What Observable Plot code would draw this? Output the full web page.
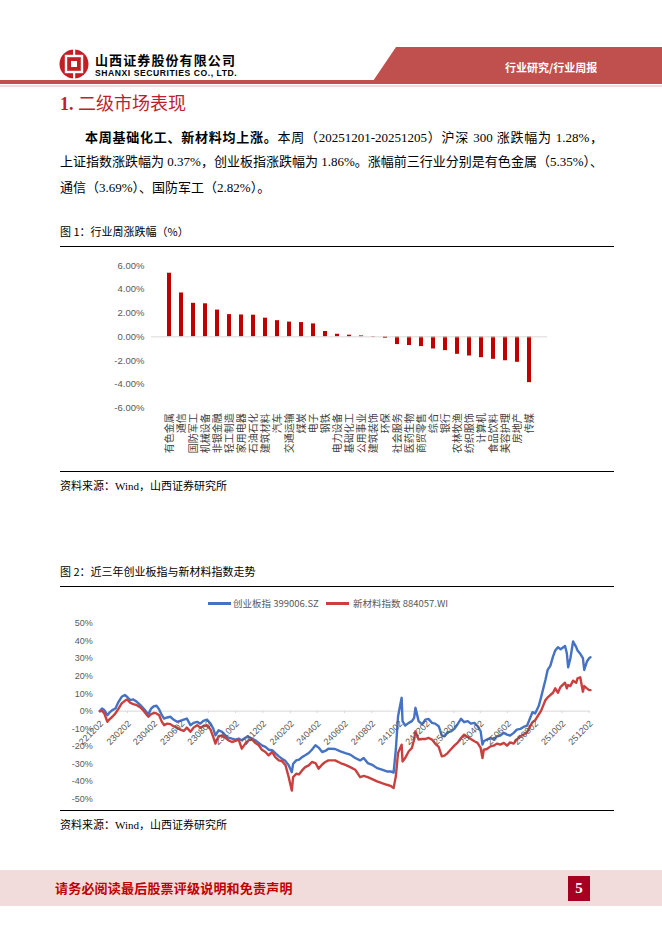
<!DOCTYPE html>
<html>
<head>
<meta charset="utf-8">
<script src="https://cdn.jsdelivr.net/npm/d3@7"></script>
<script src="https://cdn.jsdelivr.net/npm/@observablehq/plot@0.6"></script>
<style>
  html, body { margin: 0; padding: 0; background: #fff; }
  #page { position: relative; width: 662px; height: 936px; overflow: hidden; background: #fff;
          font-family: "Liberation Serif", "Noto Sans CJK SC", serif; color: #000; }
  .abs { position: absolute; white-space: nowrap; }
  .cjk { font-family: "Noto Sans CJK SC", sans-serif; }
  .para { position: absolute; font-size: 13px; line-height: 13px; text-align: justify; text-align-last: justify; white-space: nowrap; }
  .rule { position: absolute; left: 60px; width: 554px; height: 1.3px; background: #000; }
  .cap { position: absolute; left: 60px; font-size: 11px; line-height: 11px; }
  .sw { position: absolute; height: 2.6px; }
  .leg { position: absolute; font-family: "Noto Sans CJK SC", sans-serif; font-size: 9.5px; line-height: 10px; color: #595959; white-space: nowrap; }
</style>
</head>
<body>
<div id="page">
  <!-- header -->
  <svg class="abs" style="left:0;top:0" width="662" height="95">
    <polygon points="371,84 396,47 662,47 662,84" fill="#c0504d"></polygon>
    <rect x="0" y="80" width="662" height="4" fill="#c0504d"></rect>
    <rect x="0" y="85" width="662" height="2" fill="#f2dcdb"></rect>
    <circle cx="74" cy="64" r="14.5" fill="#c41e24"></circle>
    <rect x="66" y="56" width="16" height="16" fill="none" stroke="#fff" stroke-width="2.4"></rect>
    <rect x="71" y="61" width="6" height="6" fill="#fff"></rect>
    <rect x="73" y="49" width="2.2" height="7" fill="#fff"></rect>
    <rect x="73" y="72" width="2.2" height="7" fill="#fff"></rect>
  </svg>
  <div class="abs cjk" style="left:95px;top:53px;font-size:13px;line-height:13px;font-weight:700;letter-spacing:1.1px;">山西证券股份有限公司</div>
  <div class="abs" style="left:95px;top:69px;font-family:'Liberation Sans',sans-serif;font-size:8.6px;line-height:9px;font-weight:700;letter-spacing:0.55px;">SHANXI SECURITIES CO., LTD.</div>
  <div class="abs cjk" style="left:505px;top:61px;font-size:11px;line-height:12px;font-weight:700;color:#fff;">行业研究/行业周报</div>

  <!-- section heading -->
  <div class="abs" style="left:60px;top:92px;font-size:18px;line-height:20px;color:#be1e2d;"><b>1.</b> <span class="cjk">二级市场表现</span></div>

  <!-- paragraph -->
  <div class="para" style="left:85px;top:130px;width:518px;"><b class="cjk">本周基础化工、新材料均上涨。</b>本周（20251201-20251205）沪深 300 涨跌幅为 1.28%，</div>
  <div class="para" style="left:60px;top:155px;width:543px;">上证指数涨跌幅为 0.37%，创业板指涨跌幅为 1.86%。涨幅前三行业分别是有色金属（5.35%）、</div>
  <div class="para" style="left:60px;top:181px;text-align-last:left;">通信（3.69%）、国防军工（2.82%）。</div>

  <!-- figure 1 -->
  <div class="cap cjk" style="top:226px;">图 1：行业周涨跌幅（%）</div>
  <div id="chart1" class="abs" style="left:0;top:250px;"></div>
  <div class="rule" style="top:246px;"></div>
  <div class="rule" style="top:471px;"></div>
  <div class="cap" style="top:481px;">资料来源：Wind，山西证券研究所</div>

  <!-- figure 2 -->
  <div class="cap cjk" style="top:566px;">图 2：近三年创业板指与新材料指数走势</div>
  <div id="chart2" class="abs" style="left:0;top:590px;"></div>
  <div class="sw" style="left:208px;top:602px;width:23px;background:#4472c4;"></div>
  <div class="leg" style="left:233px;top:598px;">创业板指 399006.SZ</div>
  <div class="sw" style="left:326px;top:602px;width:23px;background:#c9403f;"></div>
  <div class="leg" style="left:353px;top:598px;">新材料指数 884057.WI</div>
  <div class="rule" style="top:586px;"></div>
  <div class="rule" style="top:810px;"></div>
  <div class="cap" style="top:820px;">资料来源：Wind，山西证券研究所</div>

  <!-- footer -->
  <div class="abs" style="left:0;top:870px;width:662px;height:36px;background:#f2dcdb;"></div>
  <div class="abs cjk" style="left:55px;top:881px;font-size:13px;line-height:14px;font-weight:700;color:#c00000;letter-spacing:0.2px;">请务必阅读最后股票评级说明和免责声明</div>
  <div class="abs" style="left:568px;top:876px;width:22px;height:25px;background:#a50021;color:#fff;font-size:15px;line-height:25px;text-align:center;font-weight:700;">5</div>
</div>

<script>
// ---------- Figure 1 data: weekly change by industry (%) ----------
const industries = ["有色金属","通信","国防军工","机械设备","非银金融","轻工制造","家用电器","石油石化","建筑材料","汽车","交通运输","煤炭","电子","钢铁","电力设备","基础化工","公用事业","建筑装饰","环保","社会服务","医药生物","商贸零售","综合","银行","农林牧渔","纺织服饰","计算机","食品饮料","美容护理","房地产","传媒"];
const weeklyChange = [5.35,3.69,2.82,2.78,2.25,1.87,1.84,1.82,1.57,1.36,1.24,1.20,1.09,0.45,0.22,0.14,0.08,-0.05,-0.13,-0.65,-0.73,-0.82,-1.02,-1.16,-1.47,-1.61,-1.75,-1.89,-2.01,-2.14,-3.85];
const yTicks1 = [-6,-4,-2,0,2,4,6];

// ---------- Figure 2 data: cumulative return since 2022-12-02 (%) ----------
const dates = ["2022-12-02","2022-12-07","2022-12-12","2022-12-19","2022-12-23","2022-12-30","2023-01-06","2023-01-13","2023-01-20","2023-01-27",
"2023-02-01","2023-02-08","2023-02-15","2023-02-23","2023-03-03","2023-03-10","2023-03-16","2023-03-21","2023-03-27","2023-04-03",
"2023-04-08","2023-04-14","2023-04-20","2023-04-25","2023-05-02","2023-05-09","2023-05-16","2023-05-24","2023-05-31","2023-06-08",
"2023-06-15","2023-06-23","2023-06-30","2023-07-08","2023-07-15","2023-07-22","2023-07-30","2023-08-07","2023-08-13","2023-08-18",
"2023-08-25","2023-09-02","2023-09-09","2023-09-16","2023-09-24","2023-10-02","2023-10-09","2023-10-16","2023-10-24","2023-10-31",
"2023-11-08","2023-11-15","2023-11-23","2023-11-30","2023-12-08","2023-12-15","2023-12-23","2023-12-30","2024-01-07","2024-01-14",
"2024-01-22","2024-01-29","2024-02-05","2024-02-08","2024-02-15","2024-02-21","2024-02-28","2024-03-06","2024-03-14","2024-03-21",
"2024-03-29","2024-04-05","2024-04-13","2024-04-20","2024-04-27","2024-05-12","2024-05-24","2024-06-04","2024-06-15","2024-06-26",
"2024-07-07","2024-07-15","2024-07-24","2024-08-03","2024-08-14","2024-08-25","2024-09-05","2024-09-13","2024-09-20","2024-09-25",
"2024-09-30","2024-10-08","2024-10-10","2024-10-16","2024-10-24","2024-10-31","2024-11-05","2024-11-08","2024-11-15","2024-11-23",
"2024-11-30","2024-12-07","2024-12-15","2024-12-22","2024-12-30","2025-01-06","2025-01-12","2025-01-19","2025-01-27","2025-02-03",
"2025-02-10","2025-02-18","2025-02-25","2025-03-05","2025-03-12","2025-03-20","2025-03-27","2025-04-03","2025-04-07","2025-04-10",
"2025-04-17","2025-04-25","2025-05-02","2025-05-10","2025-05-17","2025-05-25","2025-06-01","2025-06-08","2025-06-16","2025-06-23",
"2025-07-01","2025-07-08","2025-07-16","2025-07-23","2025-07-28","2025-08-03","2025-08-11","2025-08-16","2025-08-26","2025-08-31",
"2025-09-06","2025-09-12","2025-09-17","2025-09-23","2025-09-29","2025-10-09","2025-10-13","2025-10-16","2025-10-21","2025-10-27",
"2025-11-03","2025-11-06","2025-11-12","2025-11-18","2025-11-21","2025-11-27","2025-12-02","2025-12-05"];
const chinext = [0,1.5,0.6,-2.3,-1.0,0.6,1.5,5.3,8.2,9.2,
8.2,6.3,6.7,5.3,3.4,1.5,-0.4,-1.7,1.5,2.9,
3.1,1.0,-2.3,-4.2,-3.6,-3.2,-4.8,-6.1,-5.5,-4.8,
-4.2,-8.0,-6.7,-6.1,-7.1,-5.5,-4.8,-7.1,-9.9,-13.8,
-10.9,-11.8,-14.3,-15.1,-15.7,-16.2,-15.7,-16.6,-15.1,-14.7,
-15.7,-16.6,-18.1,-19.5,-20.4,-22.0,-22.3,-23.9,-25.8,-27.1,
-28.5,-30.9,-34.8,-30.0,-28.1,-27.7,-26.2,-25.2,-23.9,-22.0,
-19.5,-20.8,-23.3,-22.7,-21.4,-21.6,-22.9,-23.9,-24.8,-26.7,
-28.1,-26.7,-29.6,-30.6,-32.5,-33.4,-34.4,-34.4,-35.0,-22.0,
-2.9,7.6,-5.7,-8.2,-6.7,-5.7,-3.8,1.9,-5.7,-7.6,
-4.8,-4.4,-6.7,-7.1,-8.6,-13.9,-14.3,-12.0,-11.5,-10.1,
-7.6,-4.4,-6.3,-5.7,-7.1,-6.7,-8.6,-11.5,-19.1,-17.2,
-16.2,-15.3,-16.2,-14.3,-13.9,-12.4,-13.4,-13.9,-12.4,-10.5,
-10.1,-9.0,-8.2,-3.8,-0.6,-1.3,2.9,7.6,17.8,23.5,
25.8,31.1,34.6,36.5,35.3,37.2,33.0,25.0,30.2,39.7,
36.5,34.6,32.7,30.2,23.5,28.3,30.2,30.8];
const newMaterials = [0,0.2,-1.3,-6.1,-4.8,-3.2,-1.3,1.5,4.4,5.9,
6.7,4.8,4.0,3.4,2.1,0.2,-1.7,-3.2,-1.7,-1.0,
-1.3,-2.3,-6.1,-8.0,-7.1,-7.4,-8.6,-9.4,-10.5,-11.3,
-9.4,-11.8,-9.4,-8.0,-9.4,-8.6,-8.0,-10.5,-14.7,-18.5,
-14.3,-13.8,-15.1,-16.6,-17.6,-17.0,-16.2,-21.4,-18.5,-16.6,
-16.2,-18.1,-19.5,-22.0,-23.3,-25.2,-23.3,-26.2,-28.1,-28.5,
-30.9,-37.6,-45.3,-37.6,-35.7,-36.1,-33.8,-31.9,-30.9,-29.0,
-29.6,-32.8,-30.4,-29.0,-28.1,-28.1,-29.6,-30.6,-31.9,-33.4,
-37.6,-36.9,-37.6,-38.8,-40.1,-41.1,-42.0,-42.6,-43.9,-37.2,
-23.9,-19.1,-28.7,-26.7,-22.9,-21.0,-16.2,-11.5,-16.2,-15.9,
-15.9,-15.3,-16.2,-18.5,-20.4,-25.8,-25.4,-23.9,-21.6,-19.7,
-18.1,-15.3,-13.4,-14.7,-15.9,-17.2,-18.1,-21.0,-26.7,-22.0,
-21.6,-20.1,-19.7,-18.5,-19.1,-18.1,-19.7,-17.8,-18.5,-16.2,
-14.3,-13.4,-12.0,-8.6,-6.3,-5.2,-1.9,0.0,6.3,7.8,
9.2,10.5,13.0,10.5,13.9,16.2,13.0,14.9,14.3,17.4,
16.2,18.7,19.3,11.1,14.3,13.0,12.0,12.0];
const xTickDates = ["2022-12-02","2023-02-02","2023-04-02","2023-06-02","2023-08-02","2023-10-02","2023-12-02","2024-02-02","2024-04-02","2024-06-02","2024-08-02","2024-10-02","2024-12-02","2025-02-02","2025-04-02","2025-06-02","2025-08-02","2025-10-02","2025-12-02"];
const yTicks2 = [-50,-40,-30,-20,-10,0,10,20,30,40,50];

const FONT = "'Liberation Sans', 'Noto Sans CJK SC', sans-serif";

// ---------- Chart 1 ----------
const rows1 = industries.map((name, i) => ({name, value: weeklyChange[i]}));
const chart1 = Plot.plot({
  width: 662, height: 220,
  marginLeft: 150.9, marginRight: 114.9, marginTop: 15, marginBottom: 62.3,
  style: {background: "transparent", fontFamily: FONT, color: "#595959"},
  x: {domain: industries, paddingInner: 0.66, paddingOuter: 0.33, axis: null},
  y: {domain: [-6, 6], axis: null},
  marks: [
    Plot.barY(rows1, {x: "name", y: "value", fill: "#c00000"}),
    Plot.ruleY([0], {stroke: "#d9d9d9", strokeWidth: 1}),
    Plot.axisY({ticks: yTicks1, tickFormat: d => d.toFixed(2) + "%", tickSize: 0, tickPadding: 7, fontSize: 9.5, label: null, fill: "#595959"}),
    Plot.axisX({tickRotate: -90, tickSize: 0, tickPadding: 5, fontSize: 10, label: null, fill: "#404040",
                fontFamily: "'Noto Sans CJK SC', sans-serif"})
  ]
});
document.getElementById("chart1").appendChild(chart1);

// ---------- Chart 2 ----------
const parse = d3.utcParse("%Y-%m-%d");
const fmt = d3.utcFormat("%y%m%d");
const rows2 = dates.map((d, i) => ({date: parse(d), chinext: chinext[i], material: newMaterials[i]}));
const ticks2 = xTickDates.map(parse);
const chart2 = Plot.plot({
  width: 662, height: 230,
  marginLeft: 99.3, marginRight: 72, marginTop: 33, marginBottom: 21.7,
  style: {background: "transparent", fontFamily: FONT, color: "#595959"},
  x: {type: "utc", domain: [parse(dates[0]), parse(dates[dates.length - 1])], axis: null},
  y: {domain: [-50, 50], axis: null},
  marks: [
    Plot.ruleY([0], {stroke: "#d9d9d9", strokeWidth: 1}),
    Plot.ruleX(ticks2, {x: d => d, y1: 0, y2: -1.4, stroke: "#d9d9d9"}),
    Plot.line(rows2, {x: "date", y: "chinext", stroke: "#4472c4", strokeWidth: 2.4}),
    Plot.line(rows2, {x: "date", y: "material", stroke: "#c9403f", strokeWidth: 2.4}),
    Plot.axisY({ticks: yTicks2, tickFormat: d => d + "%", tickSize: 0, tickPadding: 7, fontSize: 9, label: null, fill: "#595959"}),
    Plot.text(ticks2, {x: d => d, y: 0, text: d => fmt(d), rotate: -45, textAnchor: "end", lineAnchor: "middle", dy: 11, dx: 2, fontSize: 9, fill: "#595959"})
  ]
});
document.getElementById("chart2").appendChild(chart2);
</script>
</body>
</html>
